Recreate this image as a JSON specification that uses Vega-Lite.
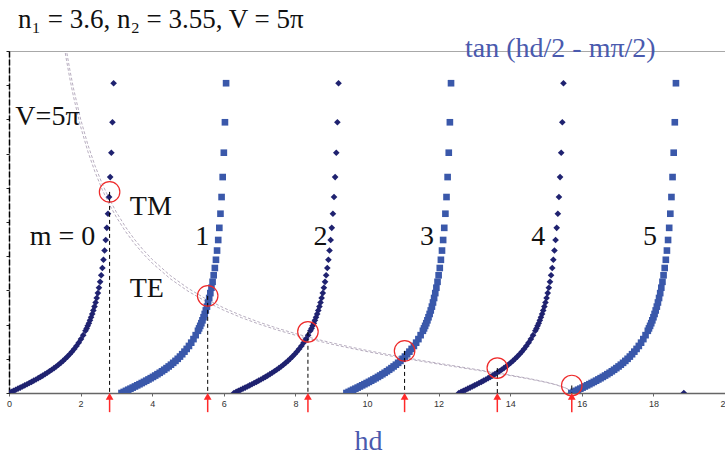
{
"$schema": "https://vega.github.io/schema/vega-lite/v6.json",
"width": 716, "height": 342,
"autosize": "none",
"padding": {"left": 9, "top": 51, "right": 0, "bottom": 63},
"background": "white",
"config": {"view": {"stroke": "#a8a8a8", "strokeWidth": 1}},
"datasets": {
"curves": [
{"c":"TE","x":1.55,"y":10.085},{"c":"TE","x":1.6,"y":9.766},{"c":"TE","x":1.7,"y":9.186},{"c":"TE","x":1.8,"y":8.669},{"c":"TE","x":2.0,"y":7.79},{"c":"TE","x":2.2,"y":7.07},{"c":"TE","x":2.4,"y":6.468},{"c":"TE","x":2.6,"y":5.958},{"c":"TE","x":2.8,"y":5.52},{"c":"TE","x":3.0,"y":5.14},{"c":"TE","x":3.25,"y":4.729},{"c":"TE","x":3.5,"y":4.375},{"c":"TE","x":3.75,"y":4.068},{"c":"TE","x":4.0,"y":3.798},{"c":"TE","x":4.5,"y":3.344},{"c":"TE","x":5.0,"y":2.978},{"c":"TE","x":5.5,"y":2.675},{"c":"TE","x":6.0,"y":2.419},{"c":"TE","x":6.5,"y":2.2},{"c":"TE","x":7.0,"y":2.009},{"c":"TE","x":7.5,"y":1.84},{"c":"TE","x":8.0,"y":1.69},{"c":"TE","x":8.5,"y":1.554},{"c":"TE","x":9.0,"y":1.43},{"c":"TE","x":9.5,"y":1.317},{"c":"TE","x":10.0,"y":1.211},{"c":"TE","x":10.5,"y":1.113},{"c":"TE","x":11.0,"y":1.019},{"c":"TE","x":11.5,"y":0.93},{"c":"TE","x":12.0,"y":0.845},{"c":"TE","x":12.5,"y":0.761},{"c":"TE","x":13.0,"y":0.678},{"c":"TE","x":13.5,"y":0.595},{"c":"TE","x":14.0,"y":0.509},{"c":"TE","x":14.5,"y":0.417},{"c":"TE","x":15.0,"y":0.311},{"c":"TE","x":15.25,"y":0.247},{"c":"TE","x":15.5,"y":0.164},{"c":"TE","x":15.6,"y":0.118},{"c":"TE","x":15.7,"y":0.032},{"c":"TE","x":15.708,"y":0},
{"c":"TM","x":1.55,"y":10.371},{"c":"TM","x":1.6,"y":10.043},{"c":"TM","x":1.7,"y":9.447},{"c":"TM","x":1.8,"y":8.915},{"c":"TM","x":2.0,"y":8.011},{"c":"TM","x":2.2,"y":7.271},{"c":"TM","x":2.4,"y":6.652},{"c":"TM","x":2.6,"y":6.127},{"c":"TM","x":2.8,"y":5.677},{"c":"TM","x":3.0,"y":5.286},{"c":"TM","x":3.25,"y":4.863},{"c":"TM","x":3.5,"y":4.499},{"c":"TM","x":3.75,"y":4.183},{"c":"TM","x":4.0,"y":3.906},{"c":"TM","x":4.5,"y":3.439},{"c":"TM","x":5.0,"y":3.063},{"c":"TM","x":5.5,"y":2.751},{"c":"TM","x":6.0,"y":2.488},{"c":"TM","x":6.5,"y":2.262},{"c":"TM","x":7.0,"y":2.066},{"c":"TM","x":7.5,"y":1.892},{"c":"TM","x":8.0,"y":1.738},{"c":"TM","x":8.5,"y":1.598},{"c":"TM","x":9.0,"y":1.471},{"c":"TM","x":9.5,"y":1.354},{"c":"TM","x":10.0,"y":1.245},{"c":"TM","x":10.5,"y":1.145},{"c":"TM","x":11.0,"y":1.048},{"c":"TM","x":11.5,"y":0.956},{"c":"TM","x":12.0,"y":0.869},{"c":"TM","x":12.5,"y":0.783},{"c":"TM","x":13.0,"y":0.697},{"c":"TM","x":13.5,"y":0.612},{"c":"TM","x":14.0,"y":0.523},{"c":"TM","x":14.5,"y":0.429},{"c":"TM","x":15.0,"y":0.32},{"c":"TM","x":15.25,"y":0.254},{"c":"TM","x":15.5,"y":0.169},{"c":"TM","x":15.6,"y":0.121},{"c":"TM","x":15.7,"y":0.033},{"c":"TM","x":15.708,"y":0}
],
"branches": [
{"m":0,"x":0.000,"y":0},{"m":0,"x":0.063,"y":0.031},{"m":0,"x":0.126,"y":0.063},{"m":0,"x":0.188,"y":0.095},{"m":0,"x":0.251,"y":0.126},{"m":0,"x":0.314,"y":0.158},{"m":0,"x":0.377,"y":0.191},{"m":0,"x":0.440,"y":0.224},{"m":0,"x":0.503,"y":0.257},{"m":0,"x":0.565,"y":0.291},{"m":0,"x":0.628,"y":0.325},{"m":0,"x":0.691,"y":0.360},{"m":0,"x":0.754,"y":0.396},{"m":0,"x":0.817,"y":0.433},{"m":0,"x":0.880,"y":0.471},{"m":0,"x":0.942,"y":0.510},{"m":0,"x":1.005,"y":0.550},{"m":0,"x":1.068,"y":0.591},{"m":0,"x":1.131,"y":0.635},{"m":0,"x":1.194,"y":0.680},{"m":0,"x":1.257,"y":0.727},{"m":0,"x":1.319,"y":0.776},{"m":0,"x":1.382,"y":0.827},{"m":0,"x":1.445,"y":0.882},{"m":0,"x":1.508,"y":0.939},{"m":0,"x":1.571,"y":1.000},{"m":0,"x":1.634,"y":1.065},{"m":0,"x":1.696,"y":1.134},{"m":0,"x":1.759,"y":1.209},{"m":0,"x":1.822,"y":1.289},{"m":0,"x":1.885,"y":1.376},{"m":0,"x":1.948,"y":1.472},{"m":0,"x":2.011,"y":1.576},{"m":0,"x":2.073,"y":1.691},{"m":0,"x":2.136,"y":1.819},{"m":0,"x":2.168,"y":1.889},{"m":0,"x":2.199,"y":1.963},{"m":0,"x":2.231,"y":2.041},{"m":0,"x":2.262,"y":2.125},{"m":0,"x":2.293,"y":2.215},{"m":0,"x":2.325,"y":2.311},{"m":0,"x":2.356,"y":2.414},{"m":0,"x":2.388,"y":2.526},{"m":0,"x":2.419,"y":2.647},{"m":0,"x":2.450,"y":2.778},{"m":0,"x":2.482,"y":2.921},{"m":0,"x":2.513,"y":3.078},{"m":0,"x":2.545,"y":3.251},{"m":0,"x":2.576,"y":3.442},{"m":0,"x":2.608,"y":3.655},{"m":0,"x":2.639,"y":3.895},{"m":0,"x":2.670,"y":4.165},{"m":0,"x":2.702,"y":4.474},{"m":0,"x":2.733,"y":4.829},{"m":0,"x":2.765,"y":5.242},{"m":0,"x":2.796,"y":5.730},{"m":0,"x":2.827,"y":6.314},{"m":0,"x":2.859,"y":7.026},{"m":0,"x":2.890,"y":7.916},{"m":0,"x":2.922,"y":9.058},
{"m":1,"x":3.142,"y":0},{"m":1,"x":3.205,"y":0.031},{"m":1,"x":3.268,"y":0.063},{"m":1,"x":3.330,"y":0.095},{"m":1,"x":3.393,"y":0.126},{"m":1,"x":3.456,"y":0.158},{"m":1,"x":3.519,"y":0.191},{"m":1,"x":3.582,"y":0.224},{"m":1,"x":3.645,"y":0.257},{"m":1,"x":3.707,"y":0.291},{"m":1,"x":3.770,"y":0.325},{"m":1,"x":3.833,"y":0.360},{"m":1,"x":3.896,"y":0.396},{"m":1,"x":3.959,"y":0.433},{"m":1,"x":4.022,"y":0.471},{"m":1,"x":4.084,"y":0.510},{"m":1,"x":4.147,"y":0.550},{"m":1,"x":4.210,"y":0.591},{"m":1,"x":4.273,"y":0.635},{"m":1,"x":4.336,"y":0.680},{"m":1,"x":4.399,"y":0.727},{"m":1,"x":4.461,"y":0.776},{"m":1,"x":4.524,"y":0.827},{"m":1,"x":4.587,"y":0.882},{"m":1,"x":4.650,"y":0.939},{"m":1,"x":4.713,"y":1.000},{"m":1,"x":4.776,"y":1.065},{"m":1,"x":4.838,"y":1.134},{"m":1,"x":4.901,"y":1.209},{"m":1,"x":4.964,"y":1.289},{"m":1,"x":5.027,"y":1.376},{"m":1,"x":5.090,"y":1.472},{"m":1,"x":5.153,"y":1.576},{"m":1,"x":5.215,"y":1.691},{"m":1,"x":5.278,"y":1.819},{"m":1,"x":5.310,"y":1.889},{"m":1,"x":5.341,"y":1.963},{"m":1,"x":5.373,"y":2.041},{"m":1,"x":5.404,"y":2.125},{"m":1,"x":5.435,"y":2.215},{"m":1,"x":5.467,"y":2.311},{"m":1,"x":5.498,"y":2.414},{"m":1,"x":5.530,"y":2.526},{"m":1,"x":5.561,"y":2.647},{"m":1,"x":5.592,"y":2.778},{"m":1,"x":5.624,"y":2.921},{"m":1,"x":5.655,"y":3.078},{"m":1,"x":5.687,"y":3.251},{"m":1,"x":5.718,"y":3.442},{"m":1,"x":5.750,"y":3.655},{"m":1,"x":5.781,"y":3.895},{"m":1,"x":5.812,"y":4.165},{"m":1,"x":5.844,"y":4.474},{"m":1,"x":5.875,"y":4.829},{"m":1,"x":5.907,"y":5.242},{"m":1,"x":5.938,"y":5.730},{"m":1,"x":5.969,"y":6.314},{"m":1,"x":6.001,"y":7.026},{"m":1,"x":6.032,"y":7.916},{"m":1,"x":6.064,"y":9.058},
{"m":2,"x":6.283,"y":0},{"m":2,"x":6.346,"y":0.031},{"m":2,"x":6.409,"y":0.063},{"m":2,"x":6.471,"y":0.095},{"m":2,"x":6.534,"y":0.126},{"m":2,"x":6.597,"y":0.158},{"m":2,"x":6.660,"y":0.191},{"m":2,"x":6.723,"y":0.224},{"m":2,"x":6.786,"y":0.257},{"m":2,"x":6.848,"y":0.291},{"m":2,"x":6.911,"y":0.325},{"m":2,"x":6.974,"y":0.360},{"m":2,"x":7.037,"y":0.396},{"m":2,"x":7.100,"y":0.433},{"m":2,"x":7.163,"y":0.471},{"m":2,"x":7.225,"y":0.510},{"m":2,"x":7.288,"y":0.550},{"m":2,"x":7.351,"y":0.591},{"m":2,"x":7.414,"y":0.635},{"m":2,"x":7.477,"y":0.680},{"m":2,"x":7.540,"y":0.727},{"m":2,"x":7.602,"y":0.776},{"m":2,"x":7.665,"y":0.827},{"m":2,"x":7.728,"y":0.882},{"m":2,"x":7.791,"y":0.939},{"m":2,"x":7.854,"y":1.000},{"m":2,"x":7.917,"y":1.065},{"m":2,"x":7.979,"y":1.134},{"m":2,"x":8.042,"y":1.209},{"m":2,"x":8.105,"y":1.289},{"m":2,"x":8.168,"y":1.376},{"m":2,"x":8.231,"y":1.472},{"m":2,"x":8.294,"y":1.576},{"m":2,"x":8.356,"y":1.691},{"m":2,"x":8.419,"y":1.819},{"m":2,"x":8.451,"y":1.889},{"m":2,"x":8.482,"y":1.963},{"m":2,"x":8.514,"y":2.041},{"m":2,"x":8.545,"y":2.125},{"m":2,"x":8.576,"y":2.215},{"m":2,"x":8.608,"y":2.311},{"m":2,"x":8.639,"y":2.414},{"m":2,"x":8.671,"y":2.526},{"m":2,"x":8.702,"y":2.647},{"m":2,"x":8.733,"y":2.778},{"m":2,"x":8.765,"y":2.921},{"m":2,"x":8.796,"y":3.078},{"m":2,"x":8.828,"y":3.251},{"m":2,"x":8.859,"y":3.442},{"m":2,"x":8.891,"y":3.655},{"m":2,"x":8.922,"y":3.895},{"m":2,"x":8.953,"y":4.165},{"m":2,"x":8.985,"y":4.474},{"m":2,"x":9.016,"y":4.829},{"m":2,"x":9.048,"y":5.242},{"m":2,"x":9.079,"y":5.730},{"m":2,"x":9.110,"y":6.314},{"m":2,"x":9.142,"y":7.026},{"m":2,"x":9.173,"y":7.916},{"m":2,"x":9.205,"y":9.058},
{"m":3,"x":9.425,"y":0},{"m":3,"x":9.488,"y":0.031},{"m":3,"x":9.551,"y":0.063},{"m":3,"x":9.613,"y":0.095},{"m":3,"x":9.676,"y":0.126},{"m":3,"x":9.739,"y":0.158},{"m":3,"x":9.802,"y":0.191},{"m":3,"x":9.865,"y":0.224},{"m":3,"x":9.928,"y":0.257},{"m":3,"x":9.990,"y":0.291},{"m":3,"x":10.053,"y":0.325},{"m":3,"x":10.116,"y":0.360},{"m":3,"x":10.179,"y":0.396},{"m":3,"x":10.242,"y":0.433},{"m":3,"x":10.305,"y":0.471},{"m":3,"x":10.367,"y":0.510},{"m":3,"x":10.430,"y":0.550},{"m":3,"x":10.493,"y":0.591},{"m":3,"x":10.556,"y":0.635},{"m":3,"x":10.619,"y":0.680},{"m":3,"x":10.682,"y":0.727},{"m":3,"x":10.744,"y":0.776},{"m":3,"x":10.807,"y":0.827},{"m":3,"x":10.870,"y":0.882},{"m":3,"x":10.933,"y":0.939},{"m":3,"x":10.996,"y":1.000},{"m":3,"x":11.059,"y":1.065},{"m":3,"x":11.121,"y":1.134},{"m":3,"x":11.184,"y":1.209},{"m":3,"x":11.247,"y":1.289},{"m":3,"x":11.310,"y":1.376},{"m":3,"x":11.373,"y":1.472},{"m":3,"x":11.436,"y":1.576},{"m":3,"x":11.498,"y":1.691},{"m":3,"x":11.561,"y":1.819},{"m":3,"x":11.593,"y":1.889},{"m":3,"x":11.624,"y":1.963},{"m":3,"x":11.656,"y":2.041},{"m":3,"x":11.687,"y":2.125},{"m":3,"x":11.718,"y":2.215},{"m":3,"x":11.750,"y":2.311},{"m":3,"x":11.781,"y":2.414},{"m":3,"x":11.813,"y":2.526},{"m":3,"x":11.844,"y":2.647},{"m":3,"x":11.875,"y":2.778},{"m":3,"x":11.907,"y":2.921},{"m":3,"x":11.938,"y":3.078},{"m":3,"x":11.970,"y":3.251},{"m":3,"x":12.001,"y":3.442},{"m":3,"x":12.033,"y":3.655},{"m":3,"x":12.064,"y":3.895},{"m":3,"x":12.095,"y":4.165},{"m":3,"x":12.127,"y":4.474},{"m":3,"x":12.158,"y":4.829},{"m":3,"x":12.190,"y":5.242},{"m":3,"x":12.221,"y":5.730},{"m":3,"x":12.252,"y":6.314},{"m":3,"x":12.284,"y":7.026},{"m":3,"x":12.315,"y":7.916},{"m":3,"x":12.347,"y":9.058},
{"m":4,"x":12.566,"y":0},{"m":4,"x":12.629,"y":0.031},{"m":4,"x":12.692,"y":0.063},{"m":4,"x":12.754,"y":0.095},{"m":4,"x":12.817,"y":0.126},{"m":4,"x":12.880,"y":0.158},{"m":4,"x":12.943,"y":0.191},{"m":4,"x":13.006,"y":0.224},{"m":4,"x":13.069,"y":0.257},{"m":4,"x":13.131,"y":0.291},{"m":4,"x":13.194,"y":0.325},{"m":4,"x":13.257,"y":0.360},{"m":4,"x":13.320,"y":0.396},{"m":4,"x":13.383,"y":0.433},{"m":4,"x":13.446,"y":0.471},{"m":4,"x":13.508,"y":0.510},{"m":4,"x":13.571,"y":0.550},{"m":4,"x":13.634,"y":0.591},{"m":4,"x":13.697,"y":0.635},{"m":4,"x":13.760,"y":0.680},{"m":4,"x":13.823,"y":0.727},{"m":4,"x":13.885,"y":0.776},{"m":4,"x":13.948,"y":0.827},{"m":4,"x":14.011,"y":0.882},{"m":4,"x":14.074,"y":0.939},{"m":4,"x":14.137,"y":1.000},{"m":4,"x":14.200,"y":1.065},{"m":4,"x":14.262,"y":1.134},{"m":4,"x":14.325,"y":1.209},{"m":4,"x":14.388,"y":1.289},{"m":4,"x":14.451,"y":1.376},{"m":4,"x":14.514,"y":1.472},{"m":4,"x":14.577,"y":1.576},{"m":4,"x":14.639,"y":1.691},{"m":4,"x":14.702,"y":1.819},{"m":4,"x":14.734,"y":1.889},{"m":4,"x":14.765,"y":1.963},{"m":4,"x":14.797,"y":2.041},{"m":4,"x":14.828,"y":2.125},{"m":4,"x":14.859,"y":2.215},{"m":4,"x":14.891,"y":2.311},{"m":4,"x":14.922,"y":2.414},{"m":4,"x":14.954,"y":2.526},{"m":4,"x":14.985,"y":2.647},{"m":4,"x":15.016,"y":2.778},{"m":4,"x":15.048,"y":2.921},{"m":4,"x":15.079,"y":3.078},{"m":4,"x":15.111,"y":3.251},{"m":4,"x":15.142,"y":3.442},{"m":4,"x":15.174,"y":3.655},{"m":4,"x":15.205,"y":3.895},{"m":4,"x":15.236,"y":4.165},{"m":4,"x":15.268,"y":4.474},{"m":4,"x":15.299,"y":4.829},{"m":4,"x":15.331,"y":5.242},{"m":4,"x":15.362,"y":5.730},{"m":4,"x":15.393,"y":6.314},{"m":4,"x":15.425,"y":7.026},{"m":4,"x":15.456,"y":7.916},{"m":4,"x":15.488,"y":9.058},
{"m":5,"x":15.708,"y":0},{"m":5,"x":15.771,"y":0.031},{"m":5,"x":15.834,"y":0.063},{"m":5,"x":15.896,"y":0.095},{"m":5,"x":15.959,"y":0.126},{"m":5,"x":16.022,"y":0.158},{"m":5,"x":16.085,"y":0.191},{"m":5,"x":16.148,"y":0.224},{"m":5,"x":16.211,"y":0.257},{"m":5,"x":16.273,"y":0.291},{"m":5,"x":16.336,"y":0.325},{"m":5,"x":16.399,"y":0.360},{"m":5,"x":16.462,"y":0.396},{"m":5,"x":16.525,"y":0.433},{"m":5,"x":16.588,"y":0.471},{"m":5,"x":16.650,"y":0.510},{"m":5,"x":16.713,"y":0.550},{"m":5,"x":16.776,"y":0.591},{"m":5,"x":16.839,"y":0.635},{"m":5,"x":16.902,"y":0.680},{"m":5,"x":16.965,"y":0.727},{"m":5,"x":17.027,"y":0.776},{"m":5,"x":17.090,"y":0.827},{"m":5,"x":17.153,"y":0.882},{"m":5,"x":17.216,"y":0.939},{"m":5,"x":17.279,"y":1.000},{"m":5,"x":17.342,"y":1.065},{"m":5,"x":17.404,"y":1.134},{"m":5,"x":17.467,"y":1.209},{"m":5,"x":17.530,"y":1.289},{"m":5,"x":17.593,"y":1.376},{"m":5,"x":17.656,"y":1.472},{"m":5,"x":17.719,"y":1.576},{"m":5,"x":17.781,"y":1.691},{"m":5,"x":17.844,"y":1.819},{"m":5,"x":17.876,"y":1.889},{"m":5,"x":17.907,"y":1.963},{"m":5,"x":17.939,"y":2.041},{"m":5,"x":17.970,"y":2.125},{"m":5,"x":18.001,"y":2.215},{"m":5,"x":18.033,"y":2.311},{"m":5,"x":18.064,"y":2.414},{"m":5,"x":18.096,"y":2.526},{"m":5,"x":18.127,"y":2.647},{"m":5,"x":18.158,"y":2.778},{"m":5,"x":18.190,"y":2.921},{"m":5,"x":18.221,"y":3.078},{"m":5,"x":18.253,"y":3.251},{"m":5,"x":18.284,"y":3.442},{"m":5,"x":18.316,"y":3.655},{"m":5,"x":18.347,"y":3.895},{"m":5,"x":18.378,"y":4.165},{"m":5,"x":18.410,"y":4.474},{"m":5,"x":18.441,"y":4.829},{"m":5,"x":18.473,"y":5.242},{"m":5,"x":18.504,"y":5.730},{"m":5,"x":18.535,"y":6.314},{"m":5,"x":18.567,"y":7.026},{"m":5,"x":18.598,"y":7.916},{"m":5,"x":18.630,"y":9.058},
{"m":6,"x":18.850,"y":0}
],
"solutions": [
{"x":2.81,"y":5.88},{"x":5.55,"y":2.84},{"x":8.35,"y":1.79},{"x":11.05,"y":1.23},{"x":13.64,"y":0.73},{"x":15.72,"y":0.22}
],
"blackText": [
{"x":1.074,"y":7.836,"t":"V=5π"},{"x":3.961,"y":5.205,"t":"TM"},{"x":3.849,"y":2.816,"t":"TE"},{"x":1.492,"y":4.327,"t":"m = 0"},{"x":5.397,"y":4.327,"t":"1"},{"x":8.703,"y":4.327,"t":"2"},{"x":11.674,"y":4.327,"t":"3"},{"x":14.784,"y":4.327,"t":"4"},{"x":17.908,"y":4.327,"t":"5"}
],
"blueText": [
{"x":15.40,"y":9.82,"t":"tan (hd/2 - mπ/2)"},{"x":10.04,"y":-1.67,"t":"hd"}
],
"titleText": [
{"x":0.251,"y":10.67,"t":"n₁ = 3.6, n₂ = 3.55, V = 5π"}
]
},
"encoding": {
"x": {"field":"x","type":"quantitative","scale":{"domain":[0,20],"nice":false,"zero":false},
"axis":{"values":[0,2,4,6,8,10,12,14,16,18,20],"title":null,"grid":false,"labelFont":"Liberation Sans","labelFontSize":9,"labelColor":"#333","tickSize":3,"tickColor":"#666","domainColor":"#666","domainWidth":1.5,"labelPadding":3,"labelFlush":false}},
"y": {"field":"y","type":"quantitative","scale":{"domain":[0,10],"nice":false,"zero":false},
"axis":{"values":[0,1,2,3,4,5,6,7,8,9,10],"labels":false,"title":null,"grid":false,"tickSize":3,"tickColor":"#222","domainColor":"#000","domainDash":[6,2],"domainWidth":1.5}}
},
"layer": [
{"data":{"name":"curves"},"mark":{"type":"line","clip":true,"strokeDash":[3,2],"strokeWidth":1,"color":"#b8aec0"},"encoding":{"detail":{"field":"c"}}},
{"data":{"name":"branches"},"mark":{"type":"point","filled":true,"clip":true,"opacity":1},
"encoding":{
"shape":{"field":"m","type":"nominal","scale":{"domain":[0,1,2,3,4,5,6],"range":["diamond","square","diamond","square","diamond","square","diamond"]},"legend":null},
"color":{"field":"m","type":"nominal","scale":{"domain":[0,1,2,3,4,5,6],"range":["#1f2270","#3a58aa","#1f2270","#3a58aa","#1f2270","#3a58aa","#1f2270"]},"legend":null},
"size":{"value":44}}},
{"data":{"name":"solutions"},"mark":{"type":"rule","strokeDash":[4,3],"color":"#000","strokeWidth":1},"encoding":{"y2":{"datum":0}}},
{"data":{"name":"solutions"},"mark":{"type":"point","shape":"circle","filled":false,"color":"#ee2a2a","strokeWidth":1.2,"size":420,"opacity":1},"encoding":{}},
{"data":{"name":"solutions"},"mark":{"type":"rule","color":"#ff2a2a","strokeWidth":1.5},"encoding":{"y":{"datum":-0.56},"y2":{"datum":-0.12}}},
{"data":{"name":"solutions"},"mark":{"type":"point","shape":"triangle-up","filled":true,"color":"#ff2a2a","size":60,"opacity":1},"encoding":{"y":{"datum":-0.1}}},
{"data":{"name":"blackText"},"mark":{"type":"text","font":"Liberation Serif","fontSize":28,"align":"center","baseline":"alphabetic","color":"#111"},"encoding":{"text":{"field":"t"}}},
{"data":{"name":"blueText"},"mark":{"type":"text","font":"Liberation Serif","fontSize":28,"align":"center","baseline":"alphabetic","color":"#4a5aae"},"encoding":{"text":{"field":"t"}}},
{"data":{"name":"titleText"},"mark":{"type":"text","font":"Liberation Serif","fontSize":27,"align":"left","baseline":"alphabetic","color":"#111"},"encoding":{"text":{"field":"t"}}}
]
}
